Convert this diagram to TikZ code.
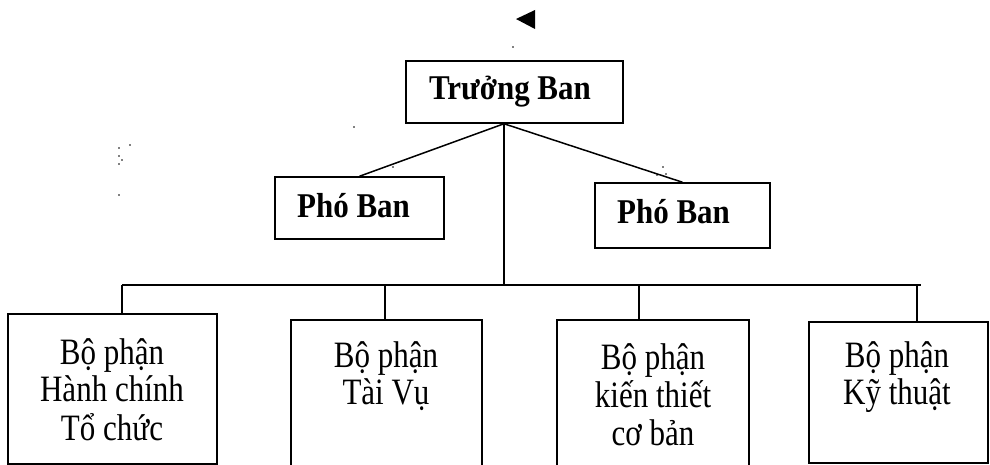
\documentclass[tikz,border=0pt]{standalone}
\usepackage{fontspec}
\setmainfont{Liberation Serif}
\begin{document}
\begin{tikzpicture}[x=1pt,y=-1pt,
  frame/.style 2 args={draw, line width=1.5pt, minimum width=#1, minimum height=#2, inner sep=0pt},
  link/.style={line width=1.5pt},
  headtext/.style={anchor=base, inner sep=0pt, font=\fontsize{31}{36}\selectfont\bfseries},
  unittext/.style={anchor=base, inner sep=0pt, font=\fontsize{31}{31.5}\selectfont},
  speck/.style={fill=black}]
\useasboundingbox (0,0) rectangle (990,465);
\clip (0,0) rectangle (990,465);

% marker above the head box
\fill (516,19) -- (535,10) -- (535,29) -- cycle;

% boxes
\node[frame={217pt}{62pt}] (tb) at (514.5,92) {};
\node[frame={169pt}{62pt}] (pl) at (359.5,208) {};
\node[frame={175pt}{65pt}] (pr) at (682.5,215.5) {};
\node[frame={209pt}{150pt}] (b1) at (112.5,389) {};
\node[frame={191pt}{152pt}] (b2) at (386.5,396) {};
\node[frame={192pt}{152pt}] (b3) at (653,396) {};
\node[frame={179pt}{141pt}] (b4) at (898.5,392.5) {};

% labels
\node[headtext] (tbt) at (510,100) {\scalebox{1}[1.12]{Trưởng Ban}};
\node[headtext] (plt) at (353.5,217) {\scalebox{1}[1.12]{Phó Ban}};
\node[headtext] (prt) at (673.5,223) {\scalebox{1}[1.12]{Phó Ban}};
\node[unittext] (b1t) at (112,364) {\scalebox{1}[1.2]{\begin{tabular}[t]{@{}c@{}}Bộ phận\\Hành chính\\Tổ chức\end{tabular}}};
\node[unittext] (b2t) at (386,367) {\scalebox{1}[1.2]{\begin{tabular}[t]{@{}c@{}}Bộ phận\\Tài Vụ\end{tabular}}};
\node[unittext] (b3t) at (653,369) {\scalebox{1}[1.2]{\begin{tabular}[t]{@{}c@{}}Bộ phận\\kiến thiết\\cơ bản\end{tabular}}};
\node[unittext] (b4t) at (897,367) {\scalebox{1}[1.2]{\begin{tabular}[t]{@{}c@{}}Bộ phận\\Kỹ thuật\end{tabular}}};

% connectors
\coordinate (hub) at ([xshift=-10.5pt]tb.south);
\coordinate (barL) at (122,285);
\coordinate (barR) at (921,285);
\coordinate (d2) at (385,285);
\coordinate (d3) at (639,285);
\coordinate (d4) at (917,285);
\draw[link] (hub) -- (pl.north);
\draw[link] (hub) -- (pr.north);
\draw[link] (hub) -- (hub |- barL);
\draw[link] (barL) -- (barR);
\draw[link] (barL) -- (barL |- b1.north);
\draw[link] (d2) -- (d2 |- b2.north);
\draw[link] (d3) -- (d3 |- b3.north);
\draw[link] (d4) -- (d4 |- b4.north);

% stray specks
\foreach \p in {(513,47),(354,127),(393,167),(663,167),(657,175),(666,174),
                (130,145),(119,148),(119,156),(122,160),(119,164),(119,195)}
  \fill[speck] \p circle (0.9pt);
\end{tikzpicture}
\end{document}
